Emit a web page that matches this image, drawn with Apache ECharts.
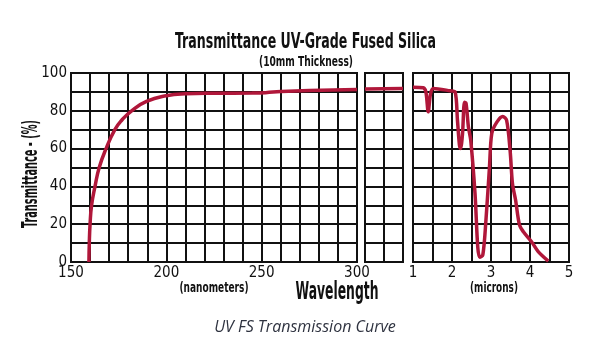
<!DOCTYPE html>
<html><head><meta charset="utf-8">
<script src="https://cdn.jsdelivr.net/npm/echarts@6/dist/echarts.min.js"></script>
<style>html,body{margin:0;padding:0;background:#fff}#c{width:605px;height:356px}</style>
</head><body><div id="c"></div>
<script>
// Data
const uvNm    = [159.4,159.6,160,160.8,162.6,164.8,168.4,173,176.6,181.8,189.6,200,210,225,245,252,260,275,300];
const uvT     = [0,10,20,30,40,50,60,70,75,80,85,88,89,89.3,89.4,89.6,90.2,90.8,91.3];
const midX    = [0,2];
const midT    = [91.6,91.8];
const irUm    = [1.0,1.26,1.33,1.39,1.45,1.52,1.95,2.08,2.14,2.19,2.22,2.27,2.32,2.36,2.42,2.48,2.59,2.66,2.71,2.79,2.87,2.96,3.02,3.15,3.3,3.4,3.49,3.55,3.63,3.73,3.83,4.04,4.21,4.47];
const irT     = [92.5,92.2,90,79.5,89,91.8,90.6,90,75,62,60,68,84.5,84,71.6,64.5,36.3,8,2.5,3.7,22,50,68,74,77,75,59,41.6,32.8,19.6,16,10.7,5.5,0.5];
const uvTicks = [150,200,250,300];
const irTicks = [1,2,3,4,5];
const yTicks  = [0,20,40,60,80,100];

const FONT = '"DejaVu Sans Condensed","DejaVu Sans",sans-serif';
const INK = '#111';
const RED = '#b0173a';
const zip = (a,b)=>a.map((v,i)=>[v,b[i]]);

const ctx = document.createElement('canvas').getContext('2d');
function fitText(text, font, targetW, x, y, rot){
  ctx.font = font;
  const w = ctx.measureText(text).width;
  return {type:'text', x:x, y:y, rotation:rot||0, scaleX:targetW/w,
    style:{text:text, fill:INK, font:font, align:'center', verticalAlign:'middle'}};
}

const split = {show:true, lineStyle:{color:INK, width:2}};
const lbl = {color:INK, fontFamily:FONT, fontSize:15, margin:4};

const chart = echarts.init(document.getElementById('c'), null, {renderer:'canvas'});
chart.setOption({
  backgroundColor:'#fff',
  animation:false,
  grid:[
    {left:71, top:73, width:286, height:189, show:true, borderColor:INK, borderWidth:2},
    {left:365, top:73, width:38, height:189, show:true, borderColor:INK, borderWidth:2},
    {left:413, top:73, width:156, height:189, show:true, borderColor:INK, borderWidth:2}
  ],
  xAxis:[
    {gridIndex:0, type:'value', min:150, max:300, interval:10, splitLine:split,
     axisLine:{show:false}, axisTick:{show:false},
     axisLabel:Object.assign({}, lbl, {formatter:v=>uvTicks.includes(v)?String(v):''})},
    {gridIndex:1, type:'value', min:0, max:2, interval:1, splitLine:split,
     axisLine:{show:false}, axisTick:{show:false}, axisLabel:{show:false}},
    {gridIndex:2, type:'value', min:1, max:5, interval:0.5, splitLine:split,
     axisLine:{show:false}, axisTick:{show:false},
     axisLabel:Object.assign({}, lbl, {formatter:v=>irTicks.includes(v)?String(v):''})}
  ],
  yAxis:[
    {gridIndex:0, type:'value', min:0, max:100, interval:10, splitLine:split,
     axisLine:{show:false}, axisTick:{show:false},
     axisLabel:Object.assign({}, lbl, {formatter:v=>yTicks.includes(v)?String(v):''})},
    {gridIndex:1, type:'value', min:0, max:100, interval:10, splitLine:split,
     axisLine:{show:false}, axisTick:{show:false}, axisLabel:{show:false}},
    {gridIndex:2, type:'value', min:0, max:100, interval:10, splitLine:split,
     axisLine:{show:false}, axisTick:{show:false}, axisLabel:{show:false}}
  ],
  series:[
    {type:'line', xAxisIndex:0, yAxisIndex:0, data:zip(uvNm,uvT), showSymbol:false,
     smooth:0.5, lineStyle:{color:RED, width:3.5}, z:5},
    {type:'line', xAxisIndex:1, yAxisIndex:1, data:zip(midX,midT), showSymbol:false,
     lineStyle:{color:RED, width:3.5}, z:5},
    {type:'line', xAxisIndex:2, yAxisIndex:2, data:zip(irUm,irT), showSymbol:false,
     smooth:0.3, lineStyle:{color:RED, width:3.5}, z:5}
  ],
  graphic:[
    fitText('Transmittance UV-Grade Fused Silica', 'bold 21px '+FONT, 261, 305.5, 43),
    fitText('(10mm Thickness)', 'bold 14px '+FONT, 94, 306, 62.5),
    fitText('Transmittance - (%)', 'bold 21px '+FONT, 108, 32, 174, Math.PI/2),
    fitText('(nanometers)', 'bold 14px '+FONT, 69, 214, 288),
    fitText('Wavelength', 'bold 24px '+FONT, 83, 337, 293),
    fitText('(microns)', 'bold 14px '+FONT, 48, 494, 288),
    {type:'text', x:305, y:327, style:{text:'UV FS Transmission Curve', fill:'#2f3340', font:'italic 16px "Open Sans",sans-serif', align:'center', verticalAlign:'middle'}}
  ]
});
</script></body></html>
